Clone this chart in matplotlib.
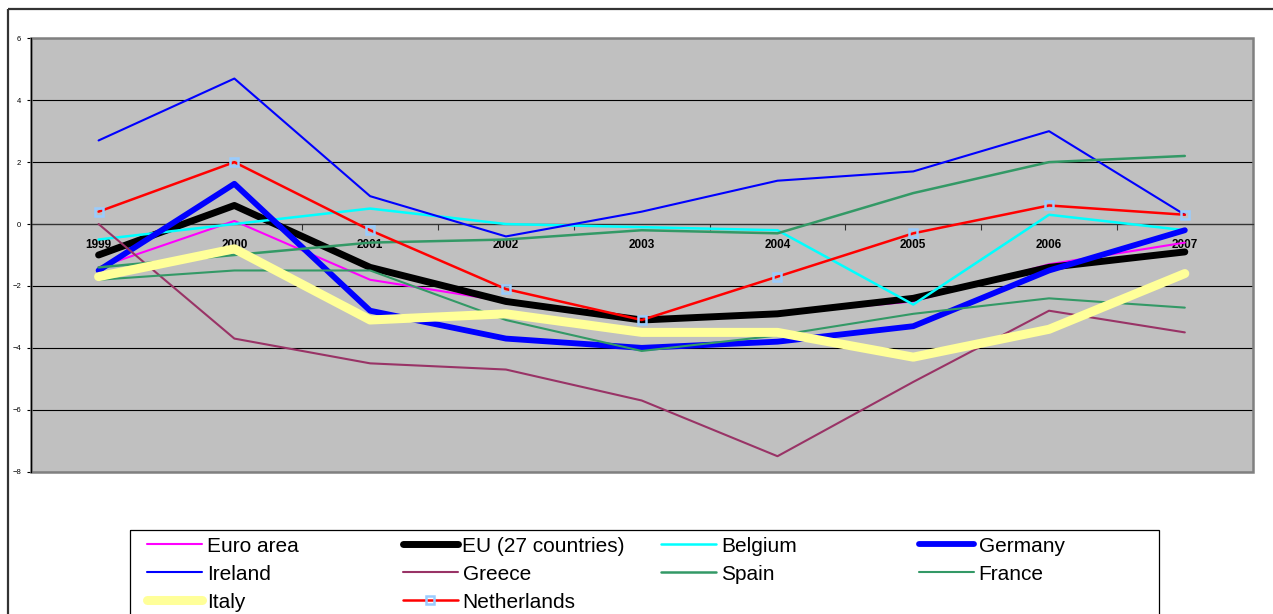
import matplotlib

matplotlib.use("Agg")

import matplotlib.pyplot as plt  # noqa: E402
from matplotlib.patches import Rectangle  # noqa: E402

plt.rcParams["font.family"] = ["Liberation Sans", "DejaVu Sans"]

years = ["1999", "2000", "2001", "2002", "2003", "2004", "2005", "2006", "2007"]

euro_area = [-1.4, 0.1, -1.8, -2.5, -3.1, -2.9, -2.5, -1.3, -0.6]
eu27 = [-1.0, 0.6, -1.4, -2.5, -3.1, -2.9, -2.4, -1.4, -0.9]
belgium = [-0.5, 0.0, 0.5, 0.0, -0.1, -0.2, -2.6, 0.3, -0.2]
germany = [-1.5, 1.3, -2.8, -3.7, -4.0, -3.8, -3.3, -1.5, -0.2]
ireland = [2.7, 4.7, 0.9, -0.4, 0.4, 1.4, 1.7, 3.0, 0.3]
greece = [0.0, -3.7, -4.5, -4.7, -5.7, -7.5, -5.1, -2.8, -3.5]
spain = [-1.4, -1.0, -0.6, -0.5, -0.2, -0.3, 1.0, 2.0, 2.2]
france = [-1.8, -1.5, -1.5, -3.1, -4.1, -3.6, -2.9, -2.4, -2.7]
italy = [-1.7, -0.8, -3.1, -2.9, -3.5, -3.5, -4.3, -3.4, -1.6]
netherlands = [0.4, 2.0, -0.2, -2.1, -3.1, -1.7, -0.3, 0.6, 0.3]

series = [
    ("Euro area", euro_area, dict(color="#FF00FF", lw=1.5)),
    ("EU (27 countries)", eu27, dict(color="#000000", lw=5.0)),
    ("Belgium", belgium, dict(color="#00FFFF", lw=1.8)),
    ("Germany", germany, dict(color="#0000FF", lw=4.2)),
    ("Ireland", ireland, dict(color="#0000FF", lw=1.5)),
    ("Greece", greece, dict(color="#993366", lw=1.5)),
    ("Spain", spain, dict(color="#339966", lw=1.8)),
    ("France", france, dict(color="#339966", lw=1.5)),
    ("Italy", italy, dict(color="#FFFF99", lw=6.5)),
    ("Netherlands", netherlands, dict(color="#FF0000", lw=1.8, marker="s", ms=6,
                                      mfc="none", mec="#99CCFF", mew=1.8)),
]

W, H = 1273, 614
fig = plt.figure(figsize=(W / 100, H / 100), dpi=100)

# decoration layer in pixel coordinates (outer frame + legend)
deco = fig.add_axes([0, 0, 1, 1], zorder=0)
deco.set_xlim(0, W)
deco.set_ylim(H, 0)
deco.axis("off")
deco.add_patch(Rectangle((8, 9), W + 20, H + 20, fill=False, ec="#333333", lw=1.6,
                         clip_on=False))

ax = fig.add_axes([30.7 / W, 1 - 471.7 / H, 1222 / W, 433.4 / H], zorder=2)
ax.set_facecolor("#C0C0C0")
x = list(range(len(years)))
for name, vals, style in series:
    ax.plot(x, vals, solid_capstyle="round", solid_joinstyle="round", zorder=3, **style)

ymin, ymax = -8, 6
ax.set_ylim(ymin, ymax)
ax.set_xlim(-0.5, len(years) - 0.5)
ax.set_yticks(range(ymin, ymax + 1, 2))
ax.tick_params(axis="y", direction="out", length=3, width=0.8, pad=4, labelsize=5.5)
ax.grid(axis="y", color="#000000", lw=0.8)
ax.set_axisbelow(True)

# grey plot-area frame
for side in ["top", "right"]:
    ax.spines[side].set_visible(False)
ax.add_patch(Rectangle((0, 0), 1, 1, transform=ax.transAxes, fill=False, ec="#808080",
                       lw=1.8, zorder=2.5, clip_on=False))
ax.spines["left"].set_color("#000000")
ax.spines["left"].set_linewidth(0.9)
ax.spines["left"].set_zorder(2.6)

# category axis crossing at zero
ax.spines["bottom"].set_position(("data", 0))
ax.spines["bottom"].set_color("#333333")
ax.spines["bottom"].set_linewidth(0.9)
ax.set_xticks([i - 0.5 for i in range(len(years) + 1)])
ax.set_xticklabels([])
ax.set_xticks(x, minor=True)
ax.set_xticklabels(years, minor=True, fontsize=8.5, fontweight="bold")
ax.tick_params(axis="x", which="major", direction="out", length=4, width=0.8,
               color="#333333")
ax.tick_params(axis="x", which="minor", length=0, pad=11)
for lbl in ax.get_xticklabels(minor=True):
    lbl.set_zorder(5)

# legend, laid out row by row like the original
lx0, lx1, ly0 = 129.7, 1159, 530
deco.add_patch(Rectangle((lx0, ly0), lx1 - lx0, H + 20 - ly0, fill=False, ec="#000000",
                         lw=0.9, clip_on=False))
col_x = [146.8, 402.5, 660.8, 918.5]
row_y = [544, 572.2, 600.4]
for i, (name, vals, style) in enumerate(series):
    cx = col_x[i % 4]
    cy = row_y[i // 4]
    st = {k: v for k, v in style.items() if k in ("color", "lw")}
    deco.plot([cx, cx + 55], [cy, cy], solid_capstyle="round", **st)
    if "marker" in style:
        deco.plot([cx + 27.5], [cy], ls="none", marker=style["marker"], ms=style["ms"],
                  mfc=style["mfc"], mec=style["mec"], mew=style["mew"])
    deco.text(cx + 60, cy + 7.6, name, fontsize=15, va="baseline", ha="left")

fig.savefig("out.png", dpi=100)
